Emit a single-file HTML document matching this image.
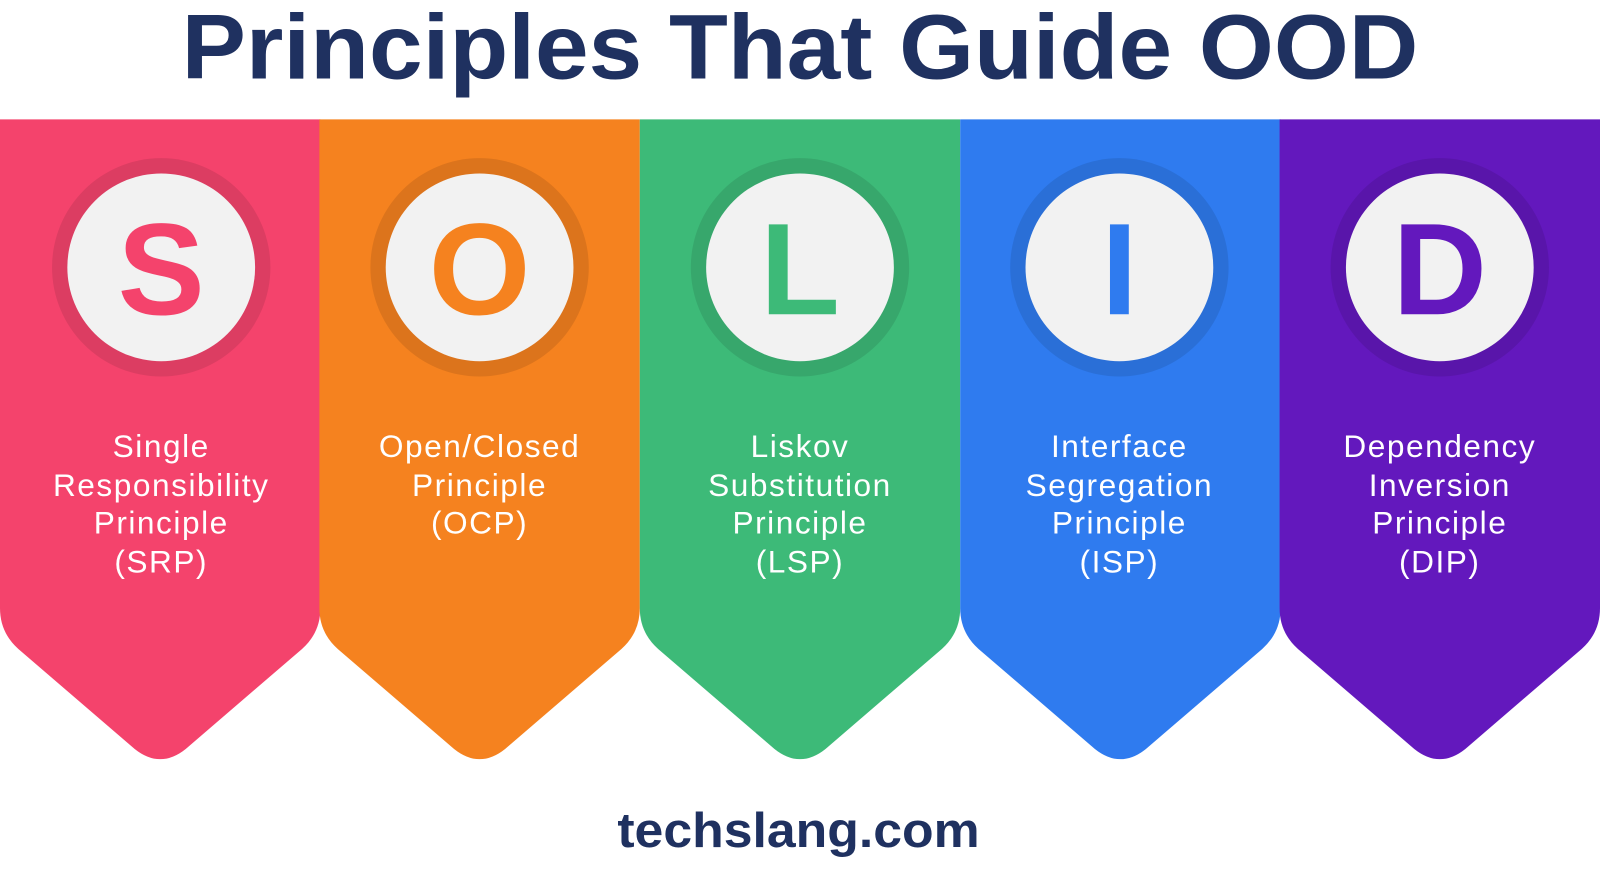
<!DOCTYPE html>
<html><head><meta charset="utf-8"><style>
body{margin:0;width:1600px;height:871px;background:#fff;overflow:hidden;font-family:"Liberation Sans",sans-serif}
</style></head><body>
<svg width="1600" height="871" viewBox="0 0 1568 853.6" preserveAspectRatio="none" xmlns="http://www.w3.org/2000/svg" style="position:absolute;left:0;top:0">
<defs>
<path id="col" d="M0,117 H314 V596 Q314,620 296,636 L182,734 Q157,754 132,734 L18,636 Q0,620 0,596 Z"/>
</defs>
<text x="178" y="77" textLength="1212" lengthAdjust="spacingAndGlyphs" font-family="Liberation Sans" font-weight="bold" font-size="90" fill="#1f3160">Principles That Guide OOD</text>

<g>
<use href="#col" fill="#f4436c"/>
<circle cx="158" cy="262" r="107" fill="#dc3d62"/><circle cx="158" cy="262" r="92" fill="#f2f2f2"/>
<text x="158" y="308" text-anchor="middle" font-weight="bold" font-size="128" fill="#f4436c">S</text>
<g fill="#fff" font-size="31" letter-spacing="1.5" text-anchor="middle"><text x="158" y="448">Single</text><text x="158" y="486">Responsibility</text><text x="158" y="523">Principle</text><text x="158" y="561">(SRP)</text></g>
</g>
<g transform="translate(313,0)">
<use href="#col" fill="#f5821f"/>
<circle cx="157" cy="262" r="107" fill="#dc741c"/><circle cx="157" cy="262" r="92" fill="#f2f2f2"/>
<text x="157" y="308" text-anchor="middle" font-weight="bold" font-size="128" fill="#f5821f">O</text>
<g fill="#fff" font-size="31" letter-spacing="1.5" text-anchor="middle"><text x="157" y="448">Open/Closed</text><text x="157" y="486">Principle</text><text x="157" y="523">(OCP)</text></g>
</g>
<g transform="translate(627,0)">
<use href="#col" fill="#3dba78"/>
<circle cx="157" cy="262" r="107" fill="#37a76c"/><circle cx="157" cy="262" r="92" fill="#f2f2f2"/>
<text x="157" y="308" text-anchor="middle" font-weight="bold" font-size="128" fill="#3dba78">L</text>
<g fill="#fff" font-size="31" letter-spacing="1.5" text-anchor="middle"><text x="157" y="448">Liskov</text><text x="157" y="486">Substitution</text><text x="157" y="523">Principle</text><text x="157" y="561">(LSP)</text></g>
</g>
<g transform="translate(941,0)">
<use href="#col" fill="#2f7bef"/>
<circle cx="156" cy="262" r="107" fill="#2a6fd7"/><circle cx="156" cy="262" r="92" fill="#f2f2f2"/>
<text x="156" y="308" text-anchor="middle" font-weight="bold" font-size="128" fill="#2f7bef">I</text>
<g fill="#fff" font-size="31" letter-spacing="1.5" text-anchor="middle"><text x="156" y="448">Interface</text><text x="156" y="486">Segregation</text><text x="156" y="523">Principle</text><text x="156" y="561">(ISP)</text></g>
</g>
<g transform="translate(1254,0)">
<use href="#col" fill="#6318bd"/>
<circle cx="157" cy="262" r="107" fill="#5915aa"/><circle cx="157" cy="262" r="92" fill="#f2f2f2"/>
<text x="157" y="308" text-anchor="middle" font-weight="bold" font-size="128" fill="#6318bd">D</text>
<g fill="#fff" font-size="31" letter-spacing="1.5" text-anchor="middle"><text x="157" y="448">Dependency</text><text x="157" y="486">Inversion</text><text x="157" y="523">Principle</text><text x="157" y="561">(DIP)</text></g>
</g>

<text x="605" y="830" textLength="355" lengthAdjust="spacingAndGlyphs" font-weight="bold" font-size="48" fill="#1f3160">techslang.com</text>
</svg>
</body></html>
